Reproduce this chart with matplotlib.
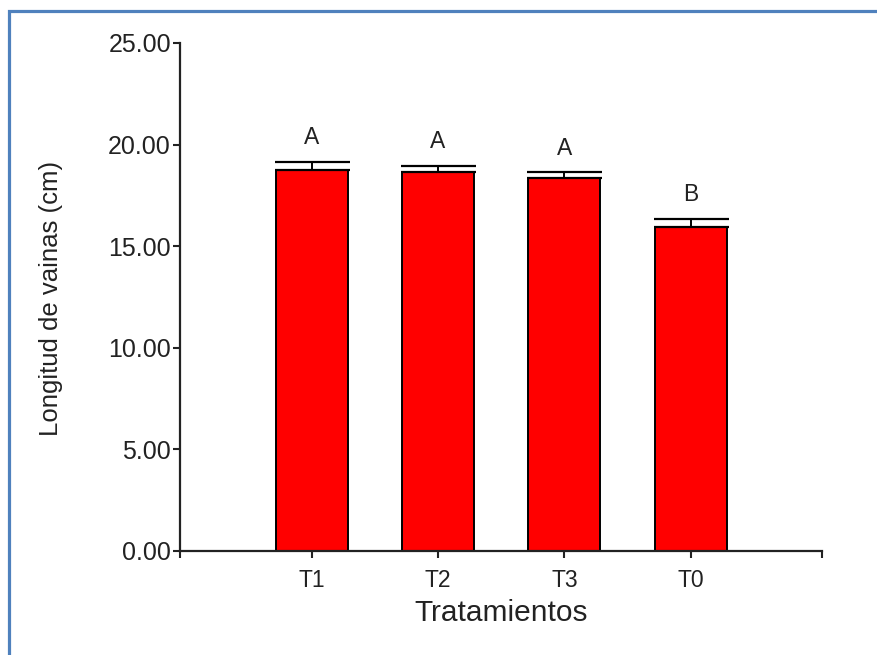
import numpy as np
import matplotlib
matplotlib.use("Agg")
import matplotlib.pyplot as plt
from matplotlib.patches import Rectangle

plt.rcParams['font.family'] = ['Liberation Sans', 'DejaVu Sans']

# datos
tratamientos = ['T1', 'T2', 'T3', 'T0']
longitud = [18.75, 18.64, 18.34, 15.93]
error = [0.41, 0.32, 0.30, 0.41]
letras = ['A', 'A', 'A', 'B']
y_ticks = [0, 5, 10, 15, 20, 25]

W, H = 878, 655
fig = plt.figure(figsize=(W / 100, H / 100), dpi=100)

# marco azul del documento
fig.patches.append(Rectangle((9 / W, -0.05), 1.2, 1 - 11 / H + 0.05,
                             transform=fig.transFigure, fill=False,
                             edgecolor='#4f81bd', linewidth=2.3))

ax = fig.add_axes([180 / W, 1 - 551 / H, (822 - 180) / W, (551 - 43) / H])

x = np.arange(len(tratamientos))
ax.bar(x, longitud, width=0.57, color='#ff0000', edgecolor='black', linewidth=1.4, zorder=2)
ax.errorbar(x, longitud, yerr=[np.zeros(len(error)), error], fmt='none',
            ecolor='black', elinewidth=1.4, capsize=27, capthick=1.6, zorder=3)

for xi, m, e, l in zip(x, longitud, error, letras):
    ax.annotate(l, (xi, m + e), xytext=(0, 9), textcoords='offset points',
                ha='center', va='bottom', fontsize=16.5, color='#222222')

ax.set_xlim(-1.043, 4.04)
ax.set_ylim(0, 25)
ax.set_xticks(x)
ax.set_xticklabels(tratamientos)
ax.set_xticks([-1.043, 4.04], minor=True)
ax.set_yticks(y_ticks)
ax.set_yticklabels(['%.2f' % v for v in y_ticks])

for s in ['top', 'right']:
    ax.spines[s].set_visible(False)
for s in ['left', 'bottom']:
    ax.spines[s].set_linewidth(1.6)
    ax.spines[s].set_color('#222222')

ax.tick_params(axis='y', direction='out', length=5, width=1.5, pad=1.5,
               labelsize=18, colors='#222222')
ax.tick_params(axis='x', which='both', direction='out', length=5, width=1.5,
               pad=8, labelsize=16.5, colors='#222222')

fig.text(501 / W, 1 - 613 / H, 'Tratamientos', ha='center', va='center',
         fontsize=21.5, color='#222222')
fig.text(51 / W, 1 - 298 / H, 'Longitud de vainas (cm)', ha='center', va='center',
         rotation=90, fontsize=18.5, color='#222222')

fig.savefig('out.png', dpi=100)
